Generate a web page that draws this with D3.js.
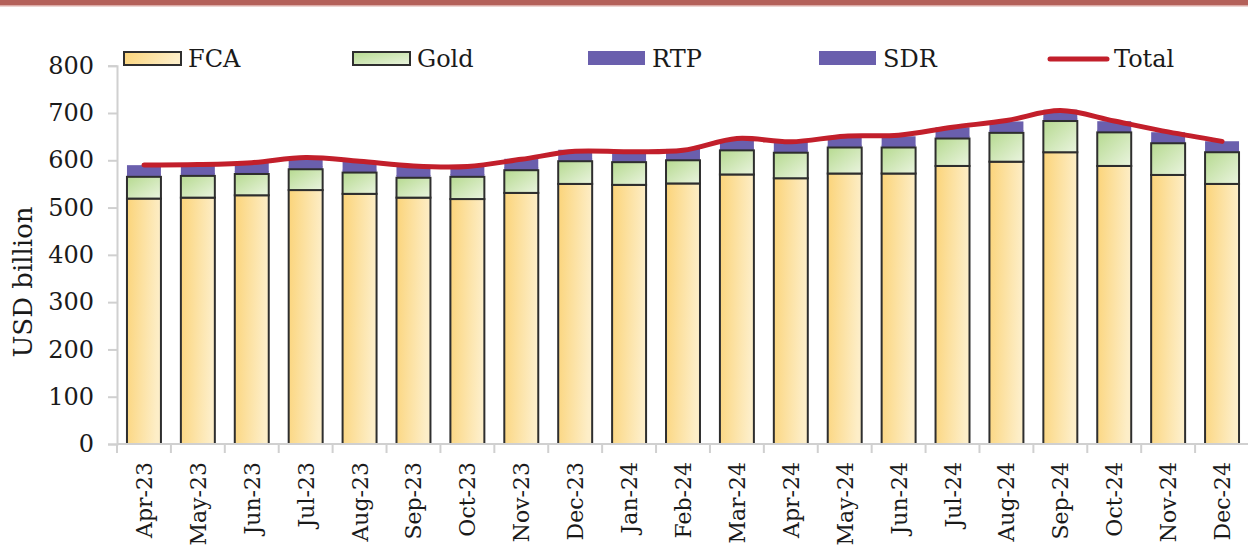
<!DOCTYPE html>
<html>
<head>
<meta charset="utf-8">
<script src="https://cdn.jsdelivr.net/npm/d3@7"></script>
<style>
  html, body { margin: 0; padding: 0; background: #fff; }
  svg { display: block; }
  text { font-family: "DejaVu Serif", "Liberation Serif", serif; fill: #1a1a1a; }
</style>
</head>
<body>
<svg id="chart" width="1248" height="553"></svg>
<script>
const months = ["Apr-23","May-23","Jun-23","Jul-23","Aug-23","Sep-23","Oct-23","Nov-23","Dec-23",
  "Jan-24","Feb-24","Mar-24","Apr-24","May-24","Jun-24","Jul-24","Aug-24","Sep-24","Oct-24","Nov-24","Dec-24"];
const fca   = [519,521,526,537,529,521,518,531,550,548,551,570,562,572,572,588,597,617,588,569,550];
const gold  = [46,46,45,44,45,42,47,48,48,48,49,51,54,55,55,58,61,66,71,67,67];
const rtp   = [5.1,5.1,5.1,5.1,5.0,4.9,4.8,4.9,4.9,4.9,4.8,4.7,4.6,4.6,4.6,4.6,4.6,4.4,4.3,4.3,4.3];
const sdr   = [18.5,18.4,18.5,18.5,18.3,18.1,18.1,18.2,18.3,18.2,18.2,18.2,18.0,18.1,18.1,18.2,18.5,18.5,18.3,18.0,17.9];
const total = [590,591,595,606,598,588,587,602,619,618,621,646,639,651,653,670,684,705,683,660,640];
const yTicks = [0,100,200,300,400,500,600,700,800];
const seriesNames = ["FCA","Gold","RTP","SDR"];

const svg = d3.select("#chart");
const defs = svg.append("defs");

const gF = defs.append("linearGradient").attr("id","gFCA").attr("x1","0").attr("y1","0").attr("x2","1").attr("y2","0.15");
gF.append("stop").attr("offset","0").attr("stop-color","#fbd47a");
gF.append("stop").attr("offset","1").attr("stop-color","#fdeec8");
const gG = defs.append("linearGradient").attr("id","gGold").attr("x1","0").attr("y1","0").attr("x2","1").attr("y2","1");
gG.append("stop").attr("offset","0").attr("stop-color","#b6da90");
gG.append("stop").attr("offset","1").attr("stop-color","#eaf4df");

const fills = {FCA:"url(#gFCA)", Gold:"url(#gGold)", RTP:"#6a5fad", SDR:"#6a5fad"};

// top decorative band
svg.append("rect").attr("x",0).attr("y",0).attr("width",1248).attr("height",5).attr("fill","#b4615a");
svg.append("rect").attr("x",0).attr("y",5).attr("width",1248).attr("height",1.5).attr("fill","#dcaaa5");

const x = d3.scaleBand().domain(months).range([117, 1249]).padding(0);
const barW = x.bandwidth() * 0.63;
const y = d3.scaleLinear().domain([0, 800]).range([444, 65.7]);

const rows = months.map((m,i) => ({m, FCA:fca[i], Gold:gold[i], RTP:rtp[i], SDR:sdr[i]}));
const stack = d3.stack().keys(seriesNames)(rows);

// bars: purple segments first (no border), then bordered segments on top
const order = ["RTP","SDR","FCA","Gold"];
order.forEach(k => {
  const layer = stack.find(l => l.key === k);
  const bordered = k === "FCA" || k === "Gold";
  svg.append("g").selectAll("rect").data(layer).join("rect")
    .attr("x", d => x(d.data.m) + (x.bandwidth() - barW) / 2)
    .attr("y", d => y(d[1]) - (bordered ? 0 : 0.5))
    .attr("width", barW)
    .attr("height", d => y(d[0]) - y(d[1]) + (bordered ? 0 : 1))
    .attr("fill", fills[k])
    .attr("stroke", bordered ? "#2e2e2e" : "none")
    .attr("stroke-width", bordered ? 2 : 0);
});

// y axis
const yAxis = d3.axisLeft(y).tickValues(yTicks).tickSize(9).tickPadding(14);
const gy = svg.append("g").attr("transform","translate(117,0)").call(yAxis);
gy.select(".domain").attr("stroke","#d0d0d0").attr("stroke-width",2);
gy.selectAll(".tick line").attr("stroke","#d0d0d0").attr("stroke-width",2);
gy.selectAll(".tick text").attr("font-size",24).attr("font-family","DejaVu Serif").attr("fill","#1a1a1a");

// x axis
const gx = svg.append("g").attr("transform","translate(0,444)");
gx.append("line").attr("x1",117).attr("x2",1249).attr("y1",0).attr("y2",0)
  .attr("stroke","#d0d0d0").attr("stroke-width",2);
const bounds = months.map(m => x(m)).concat([x(months[months.length-1]) + x.bandwidth()]);
gx.selectAll("line.tk").data(bounds).join("line").attr("class","tk")
  .attr("x1", d => d).attr("x2", d => d).attr("y1", 0).attr("y2", 9)
  .attr("stroke","#d0d0d0").attr("stroke-width",2);
gx.selectAll("text").data(months).join("text")
  .attr("transform", d => `translate(${x(d) + x.bandwidth()/2 + 8},18) rotate(-90)`)
  .attr("text-anchor","end")
  .attr("font-size",22)
  .text(d => d);

// y title
svg.append("text")
  .attr("transform","translate(32,282) rotate(-90)")
  .attr("text-anchor","middle")
  .attr("font-size",26)
  .text("USD billion");

// total line
const line = d3.line()
  .x((d,i) => x(months[i]) + x.bandwidth()/2)
  .y(d => y(d))
  .curve(d3.curveCatmullRom.alpha(0.5));
svg.append("path").datum(total)
  .attr("d", line)
  .attr("fill","none")
  .attr("stroke","#c21f2b")
  .attr("stroke-width",5)
  .attr("stroke-linecap","round");

// legend
const legendItems = [
  {name:"FCA", type:"box", x:124},
  {name:"Gold", type:"box", x:353},
  {name:"RTP", type:"flat", x:588},
  {name:"SDR", type:"flat", x:819},
  {name:"Total", type:"line", x:1048}
];
const lg = svg.append("g");
legendItems.forEach(it => {
  const g = lg.append("g").attr("transform", `translate(${it.x},0)`);
  if (it.type === "box") {
    g.append("rect").attr("x",0).attr("y",52).attr("width",57).attr("height",13)
      .attr("fill", fills[it.name]).attr("stroke","#2e2e2e").attr("stroke-width",2);
  } else if (it.type === "flat") {
    g.append("rect").attr("x",0).attr("y",51).attr("width",57).attr("height",14)
      .attr("fill", fills[it.name]);
  } else {
    g.append("line").attr("x1",2).attr("x2",59).attr("y1",59).attr("y2",59)
      .attr("stroke","#c21f2b").attr("stroke-width",5).attr("stroke-linecap","round");
  }
  g.append("text").attr("x", it.type === "line" ? 66 : 64).attr("y",67)
    .attr("font-size",24).text(it.name);
});
</script>
</body>
</html>
